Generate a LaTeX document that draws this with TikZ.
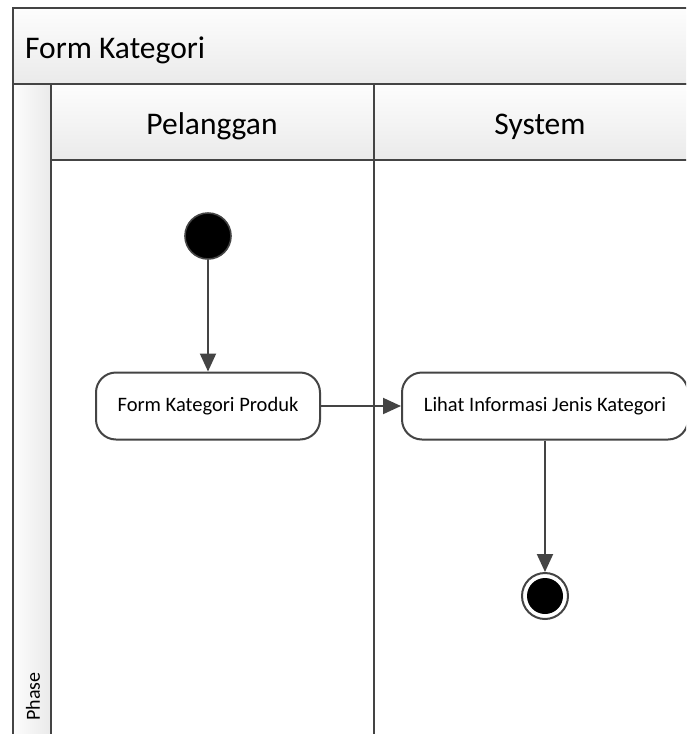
\documentclass[tikz,border=0pt]{standalone}
\usepackage{fontspec}
\setmainfont{Carlito}
\usetikzlibrary{arrows.meta,positioning}
\definecolor{linegray}{RGB}{68,68,68}
\definecolor{barlight}{RGB}{253,253,253}
\definecolor{bardark}{RGB}{234,234,234}
\tikzset{
  lane/.style={draw=linegray, line width=2pt},
  bar/.style={lane, top color=barlight, bottom color=bardark},
  action/.style={draw=linegray, line width=2pt, fill=white, rounded corners=20pt,
    minimum height=67pt, inner sep=0pt, font=\fontsize{20.5}{24}\selectfont},
  flow/.style={draw=linegray, line width=2pt, -{Triangle[length=18pt,width=16pt]}},
  startnode/.style={circle, fill=black, draw=linegray, line width=1.6pt, minimum size=46pt, inner sep=0pt},
  endnode/.style={circle, fill=white, draw=linegray, line width=2pt, minimum size=46pt, inner sep=0pt},
  endcore/.style={circle, fill=black, minimum size=36pt, inner sep=0pt},
  heading/.style={font=\fontsize{31.5}{36}\selectfont, inner sep=0pt}
}
\begin{document}
\begin{tikzpicture}[x=1pt,y=-1pt]
  \useasboundingbox (0,0) rectangle (686,734);
  \clip (0,0) rectangle (686,734);
  \fill[white] (0,0) rectangle (686,734);
  % pool title bar
  \path[bar] (13,8) rectangle (700,84);
  \node[heading, anchor=base west] (pool) at (25,58) {Form Kategori};
  % phase column
  \path[lane, left color=barlight, right color=bardark] (13,84) rectangle (51,760);
  \node[font=\fontsize{20}{24}\selectfont, rotate=90, anchor=west, inner sep=0pt] (phase) at (33,721) {Phase};
  % lane headers
  \path[bar] (51,84) rectangle (374,160);
  \path[bar] (374,84) rectangle (700,160);
  \node[heading, anchor=base] (lane1) at (212,134) {Pelanggan};
  \node[heading, anchor=base] (lane2) at (540,134) {System};
  % lane bodies
  \draw[lane] (51,160) -- (51,760);
  \draw[lane] (374,160) -- (374,760);
  % activity nodes
  \node[startnode] (start) at (208,236) {};
  \node[action, minimum width=224pt] (form) at (208,406) {Form Kategori Produk};
  \node[action, minimum width=286pt] (lihat) at (545,406) {Lihat Informasi Jenis Kategori};
  \node[endnode] (finish) at (545,596) {};
  \node[endcore] (finishcore) at (finish) {};
  % control flows
  \draw[flow] (start) -- (form);
  \draw[flow] (form) -- (lihat);
  \draw[flow] (lihat) -- (finish);
\end{tikzpicture}
\end{document}
